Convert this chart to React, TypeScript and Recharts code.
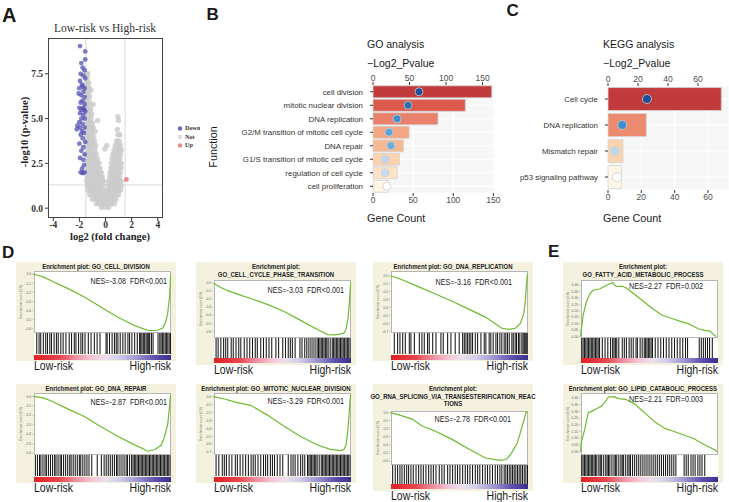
import React from 'react'
import {
  ScatterChart,
  Scatter,
  ComposedChart,
  LineChart,
  Line,
  Bar,
  Cell,
  XAxis,
  YAxis,
  CartesianGrid,
  ReferenceLine,
} from 'recharts'

const SANS = 'Arial, "Liberation Sans", sans-serif'
const SERIF = '"Times New Roman", "Liberation Serif", serif'

type Pt = [number, number]

// ---------- A: volcano ----------
const DOWN_PTS: Pt[] = [
  [-1.95, 9.05], [-1.55, 8.75], [-1.55, 8.3], [-1.85, 8.1], [-1.75, 7.85], [-1.6, 7.7], [-1.9, 7.5],
  [-1.7, 7.4], [-1.55, 7.25], [-1.95, 7.1], [-1.8, 6.9], [-1.75, 6.8], [-2.0, 6.7], [-1.6, 6.7],
  [-1.7, 6.5], [-2.05, 6.4], [-1.85, 6.3], [-1.6, 6.2], [-1.75, 6.0], [-1.9, 5.9], [-1.6, 5.8],
  [-1.7, 5.6], [-2.0, 5.6], [-1.85, 5.5], [-1.65, 5.5], [-1.55, 5.4], [-1.95, 5.3], [-1.7, 5.2],
  [-1.6, 5.0], [-1.85, 5.0], [-2.0, 4.8], [-1.75, 4.7], [-2.15, 4.6], [-1.95, 4.5], [-1.6, 4.5],
  [-2.2, 4.4], [-1.8, 4.3], [-1.65, 4.2], [-1.9, 4.1], [-1.75, 3.9], [-1.55, 3.7], [-2.0, 3.6],
  [-1.7, 3.4], [-1.85, 3.2], [-1.6, 3.0], [-1.95, 2.8], [-1.7, 2.7], [-1.65, 2.4], [-1.8, 2.2],
  [-1.6, 2.0], [-1.75, 1.95], [-1.9, 2.0],
]

// gray cloud, one row per -log10(p) level: [y, x values]
const NOT_ROWS: [number, number[]][] = [
  [7.5, [-1.45, -1.35]],
  [7.25, [-1.4]],
  [7.0, [-1.45, -1.3]],
  [6.75, [-1.4, -1.28]],
  [6.5, [-1.45, -1.3]],
  [6.25, [-1.4, -1.22]],
  [6.0, [-1.45, -1.25]],
  [5.75, [-1.4, -1.2]],
  [5.5, [-1.45, -1.28, -1.12]],
  [5.25, [-1.4, -1.2, -1.05]],
  [5.0, [-1.45, -1.28, -1.1]],
  [4.75, [-1.4, -1.2, -1.0]],
  [4.5, [-1.45, -1.28, -1.1, -0.95]],
  [4.25, [-1.4, -1.2, -1.0]],
  [4.0, [-1.45, -1.28, -1.1, -0.9]],
  [3.75, [-1.4, -1.2, -1.0, -0.85, 0.85, 1.05]],
  [3.5, [-1.45, -1.28, -1.1, -0.9, -0.75, 0.75, 0.95, 1.15]],
  [3.25, [-1.4, -1.2, -1.0, -0.8, 0.65, 0.85, 1.05, 1.2]],
  [3.0, [-1.45, -1.28, -1.1, -0.9, -0.7, 0.55, 0.75, 0.95, 1.15]],
  [2.75, [-1.4, -1.2, -1.0, -0.8, -0.6, 0.5, 0.7, 0.9, 1.1]],
  [2.5, [-1.45, -1.25, -1.05, -0.85, -0.65, -0.5, 0.45, 0.65, 0.85, 1.05, 1.2]],
  [2.25, [-1.4, -1.2, -1.0, -0.8, -0.6, -0.42, 0.4, 0.6, 0.8, 1.0, 1.2]],
  [2.0, [-1.45, -1.25, -1.05, -0.85, -0.65, -0.45, -0.32, 0.35, 0.55, 0.75, 0.95, 1.15]],
  [1.75, [-1.4, -1.2, -1.0, -0.8, -0.6, -0.4, -0.25, 0.3, 0.5, 0.7, 0.9, 1.1]],
  [1.5, [-1.45, -1.25, -1.05, -0.85, -0.65, -0.45, -0.25, -0.12, 0.25, 0.45, 0.65, 0.85, 1.05, 1.2]],
  [1.25, [-1.4, -1.2, -1.0, -0.8, -0.6, -0.4, -0.2, 0.2, 0.4, 0.6, 0.8, 1.0, 1.2]],
  [1.0, [-1.35, -1.15, -0.95, -0.75, -0.55, -0.35, -0.15, 0.15, 0.35, 0.55, 0.75, 0.95, 1.15]],
  [0.75, [-1.2, -1.0, -0.8, -0.6, -0.4, -0.2, 0, 0.2, 0.4, 0.6, 0.8, 1.0]],
  [0.5, [-1.0, -0.8, -0.6, -0.4, -0.2, 0, 0.2, 0.4, 0.6, 0.8]],
  [0.25, [-0.7, -0.5, -0.3, -0.1, 0.1, 0.3, 0.5, 0.7]],
  [0.05, [-0.3, 0.0, 0.25]],
]
const NOT_EXTRA: Pt[] = [
  [0.95, 4.1], [1.1, 4.1], [0.9, 4.4], [1.0, 4.9], [0.95, 5.1], [-0.05, 3.3], [0.1, 3.5],
  [-0.6, 4.9], [-0.8, 4.3], [-0.95, 5.8], [-1.1, 6.6],
]
const UP_PTS: Pt[] = [[1.6, 1.6]]
const VOLCANO_X_TICKS = [-4, -2, 0, 2, 4]
const VOLCANO_Y_TICKS = [0, 2.5, 5, 7.5]

// ---------- B / C: enrichment bars ----------
const GO_TERMS = [
  'cell division',
  'mitotic nuclear division',
  'DNA replication',
  'G2/M transition of mitotic cell cycle',
  'DNA repair',
  'G1/S transition of mitotic cell cycle',
  'regulation of cell cycle',
  'cell proliferation',
]
const GO_COUNT = [148, 115, 81, 45, 38, 33, 30, 19]
const GO_PVAL = [63, 48, 33, 22, 24.5, 16.5, 16.5, 19]
const GO_TICKS = [0, 50, 100, 150]

const KEGG_TERMS = ['Cell cycle', 'DNA replication', 'Mismatch repair', 'p53 signaling pathway']
const KEGG_COUNT = [68, 23, 9, 8]
const KEGG_PVAL = [26, 9.5, 4.5, 6]
const KEGG_TICKS = [0, 20, 40, 60]

const GO_BAR_COLORS = ['#c23b3c', '#dc5a4b', '#e9806b', '#f3a683', '#f6b892', '#fbd2ae', '#fde2c6', '#fef6e6']
const GO_DOT_COLORS = ['#1f4e96', '#2a6cb3', '#3d8fd0', '#5ba3dc', '#6aaee0', '#bcd7ee', '#c6dcf0', '#ffffff']
const KEGG_BAR_COLORS = ['#c23b3c', '#ec8a70', '#fbd3ae', '#fef7e8']
const KEGG_DOT_COLORS = ['#1f4e96', '#3d8fd0', '#bcd7ee', '#ffffff']

// ---------- D / E: GSEA running enrichment scores (rank %, ES) ----------
const ES_CELL_DIVISION: Pt[] = [
  [0, 0], [3, -0.012], [7, -0.03], [14, -0.08], [24, -0.15], [37, -0.25], [49, -0.36], [61, -0.47],
  [73, -0.56], [80, -0.6], [84, -0.62], [90, -0.615], [94, -0.59], [96, -0.53], [97.5, -0.44],
  [99, -0.24], [99.6, -0.05], [100, 0],
]
const ES_CELL_CYCLE: Pt[] = [
  [0, 0], [5, -0.05], [10, -0.09], [18, -0.14], [27, -0.19], [40, -0.27], [51, -0.35], [63, -0.46],
  [76, -0.58], [83, -0.64], [88, -0.645], [92, -0.635], [95, -0.62], [96.5, -0.57], [97.8, -0.44],
  [99, -0.2], [99.6, -0.04], [100, 0.02],
]
const ES_DNA_REPLICATION: Pt[] = [
  [0, 0], [8.5, -0.05], [20.6, -0.14], [32.7, -0.23], [44.8, -0.32], [56.9, -0.42], [69, -0.52],
  [76, -0.6], [81, -0.66], [86, -0.675], [90.8, -0.66], [94.4, -0.6], [96.9, -0.48], [98, -0.32],
  [98.9, -0.1], [99.5, 0], [100, 0.03],
]
const ES_DNA_REPAIR: Pt[] = [
  [0, 0], [7.3, -0.017], [14.6, -0.06], [24.4, -0.13], [36.6, -0.21], [48.8, -0.32], [61, -0.42],
  [73, -0.51], [80.5, -0.56], [83, -0.58], [87.8, -0.565], [92.7, -0.52], [95, -0.44], [97.6, -0.3],
  [98.8, -0.13], [99.6, 0], [100, 0.02],
]
const ES_MITOTIC: Pt[] = [
  [0, 0], [8, -0.03], [16, -0.07], [27, -0.11], [39, -0.23], [51, -0.37], [63, -0.5], [75.6, -0.61],
  [85, -0.665], [92.5, -0.68], [95, -0.665], [96.5, -0.6], [97.5, -0.45], [98.5, -0.25],
  [99.3, -0.05], [100, 0.03],
]
const ES_RNA_SPLICING: Pt[] = [
  [0, 0], [8.5, -0.04], [15.7, -0.08], [23, -0.165], [32.7, -0.23], [44.8, -0.33], [56.9, -0.45],
  [69, -0.56], [76, -0.58], [81, -0.59], [84.7, -0.57], [88, -0.5], [92, -0.38], [94.4, -0.25],
  [96.9, -0.1], [98.5, 0], [100, 0.02],
]
const ES_FATTY_ACID: Pt[] = [
  [0, 0], [0.7, 0.06], [1.9, 0.167], [4.3, 0.27], [6.7, 0.33], [9, 0.36], [13.9, 0.37], [18.7, 0.397],
  [23.4, 0.42], [25.8, 0.39], [30.6, 0.39], [33, 0.38], [37.8, 0.34], [45, 0.28], [52, 0.22],
  [59, 0.167], [66.5, 0.14], [73.7, 0.114], [78.5, 0.1], [85.6, 0.06], [90.4, 0.048], [94, 0.042],
  [97.6, 0.008], [98.8, 0],
]
const ES_LIPID: Pt[] = [
  [0, 0], [0.7, 0.074], [3.2, 0.17], [5.6, 0.29], [8, 0.3], [11.7, 0.32], [15.4, 0.34], [17.9, 0.37],
  [20.4, 0.407], [24.1, 0.41], [27.9, 0.395], [32.8, 0.39], [39, 0.358], [46, 0.296], [53.9, 0.222],
  [61.3, 0.173], [68.6, 0.148], [76, 0.12], [82, 0.1], [88.2, 0.062], [93, 0.037], [98, 0.012],
  [99.3, 0],
]

// gene set hits along the ranked list (%)
const HITS_CELL_DIVISION = [
  2, 3.7, 4.9, 6.8, 8.5, 9.8, 11.5, 12.7, 14.6, 16.3, 17.6, 19.5, 21.2, 23.2, 25.6, 27.3, 29.3, 30.5,
  32.4, 34.1, 35.4, 37.1, 39.5, 41.5, 43.9, 45.9, 48, 52.4, 53.2, 54.9, 56.8, 58.5, 59.8, 61, 62.7,
  64.6, 66.3, 68.3, 69.5, 71.2, 73.2, 75.1, 76.8, 77.6, 78.5, 79.5, 80.5, 81.5, 82.4, 83.4, 84.1,
  85.4, 86.6, 90.2, 91.5, 92.4, 93.4, 94.4, 95.4, 96.3, 97.3, 98.3, 99.3,
]
const HITS_CELL_CYCLE = [
  1.5, 3, 5, 7, 8.5, 10, 12.5, 14, 16, 18, 19.5, 22, 24, 26, 28, 30, 31.5, 34, 36, 38, 40, 42, 45, 47,
  50, 52, 54, 55.5, 57, 59, 62.5, 64, 66, 67.5, 69, 70.5, 72, 73.5, 75, 76, 77, 78, 79, 80, 81, 82, 83,
  84.5, 86, 87, 88, 89, 90, 91, 92, 93, 94, 95, 96, 97, 98, 99,
]
const HITS_DNA_REPLICATION = [
  2.4, 4.8, 6.5, 8.5, 10.4, 13.3, 14.5, 17, 20.6, 22.5, 24.2, 26.6, 27.8, 30.3, 32.7, 36.3, 38, 41.2,
  43.6, 46.7, 49.6, 52.1, 53.3, 54.5, 55.7, 56.9, 58.1, 59.3, 61.3, 63, 65.4, 67.8, 69, 71.4, 72.6,
  74.3, 76.3, 77.5, 79.2, 80.6, 82.3, 83.5, 84.7, 86, 87.9, 88.9, 90.3, 91.3, 92.7, 93.7, 95.2, 96.1,
  96.9, 97.6, 98.3, 99, 99.7,
]
const HITS_DNA_REPAIR = [
  1, 2.5, 4, 5, 6.5, 8, 9, 10.5, 12, 13.5, 15, 16, 17.5, 19, 20, 21.5, 23, 24.5, 26, 27, 28.5, 30, 31.5,
  33, 34, 35.5, 37, 38.5, 40, 42, 46, 49, 51, 52.5, 54, 55.5, 57, 58.5, 60, 61, 62.5, 64, 65.5, 67, 68,
  69.5, 71, 72, 73, 74, 75, 76, 77, 78, 79, 80, 81, 82, 83, 84, 85, 86, 87, 88, 89, 90, 91, 92, 93, 94,
  95, 96, 97, 98, 99,
]
const HITS_MITOTIC = [
  1.5, 3.5, 6, 7.5, 9, 11, 13, 15.5, 17, 19, 21, 23, 25, 27, 28.5, 30, 32, 34, 36, 37.5, 39, 41, 42.5,
  44, 46, 48, 50, 54, 56, 57.5, 59, 61, 63, 64.5, 66, 68, 69, 70, 71, 72, 73, 74, 75, 76.5, 78, 79, 80,
  81, 82, 83, 84, 85, 86, 87, 88, 89, 90, 91, 92, 93, 94, 95, 96, 97, 98, 99,
]
const HITS_RNA_SPLICING = [
  1.2, 3.1, 4.8, 6.5, 8, 9.7, 11.4, 12.8, 14.5, 16.2, 18.2, 20.1, 21.8, 23.5, 25.4, 27.4, 29.1, 30.8,
  32.7, 35.1, 37, 38.7, 41.2, 42.9, 44.8, 46.7, 48.4, 50.1, 52.1, 54, 55.7, 57.4, 59.3, 61.3, 63, 64.6,
  66.6, 68.5, 70.2, 71.9, 73.8, 75.8, 77.5, 79.2, 80.6, 82.3, 83.5, 84.7, 86, 87.2, 88.4, 89.6, 90.8,
  92, 93.2, 94.4, 95.6, 96.9, 98.1, 99.3,
]
const HITS_FATTY_ACID = [
  0.5, 1.5, 2.5, 3.5, 4.5, 5.5, 6.5, 7.5, 8.5, 9.5, 10.5, 11.5, 12.5, 13.5, 15.5, 17.5, 19.5, 21.5, 23,
  24, 25, 26, 27.5, 30, 31.5, 33, 35, 36.5, 38, 40, 41, 43, 44.5, 46, 47, 48, 49, 50, 51, 52, 54, 56,
  58, 60, 62, 64, 66, 68, 70, 72, 74, 76, 77.5, 86, 87.5, 89, 90.5, 92, 93.5, 95.5,
]
const HITS_LIPID = [
  0.5, 1.5, 2.5, 3.5, 4.5, 5.5, 6.5, 7.5, 8.5, 9.5, 10.5, 11.5, 13, 14, 15, 16.5, 18, 19, 20, 21, 22.5,
  24, 25, 26, 27.5, 29, 30, 31, 32.5, 34, 35, 36, 37.5, 39, 40.5, 42, 43.5, 45, 46.5, 48, 49.5, 51,
  52.5, 54, 55.5, 57, 58.5, 60, 61.5, 63, 64.5, 66, 67.5, 69, 75, 76.5, 78, 80, 81.5, 83, 85, 86.5, 88,
  90,
]

const NEG6_TICKS = [0, -0.1, -0.2, -0.3, -0.4, -0.5, -0.6]
const NEG7_TICKS = [0, -0.1, -0.2, -0.3, -0.4, -0.5, -0.6, -0.7]
const POS_TICKS = [0, 0.05, 0.1, 0.15, 0.2, 0.25, 0.3, 0.35, 0.4]

// layout of the eight GSEA panels
const GSEA_PANELS = [
  { x: 16, y: 262, title: ['Enrichment plot: GO_CELL_DIVISION'], es: ES_CELL_DIVISION, hits: HITS_CELL_DIVISION, ticks: NEG6_TICKS, domain: [-0.645, 0.035], digits: 1, nes: 'NES=-3.08  FDR<0.001', nesRight: 4, nesDy: 10.7 },
  { x: 196, y: 262, title: ['Enrichment plot:', 'GO_CELL_CYCLE_PHASE_TRANSITION'], es: ES_CELL_CYCLE, hits: HITS_CELL_CYCLE, ticks: NEG6_TICKS, domain: [-0.68, 0.04], digits: 1, nes: 'NES=-3.03  FDR<0.001', nesRight: 7, nesDy: 10.7 },
  { x: 373, y: 262, title: ['Enrichment plot: GO_DNA_REPLICATION'], es: ES_DNA_REPLICATION, hits: HITS_DNA_REPLICATION, ticks: NEG7_TICKS, domain: [-0.72, 0.06], digits: 1, nes: 'NES=-3.16  FDR<0.001', nesRight: 16, nesDy: 11.5 },
  { x: 563, y: 262, title: ['Enrichment plot:', 'GO_FATTY_ACID_METABOLIC_PROCESS'], es: ES_FATTY_ACID, hits: HITS_FATTY_ACID, ticks: POS_TICKS, domain: [-0.01, 0.44], digits: 2, nes: 'NES=2.27  FDR=0.002', nesRight: 15, nesDy: 6.6 },
  { x: 16, y: 384, title: ['Enrichment plot: GO_DNA_REPAIR'], es: ES_DNA_REPAIR, hits: HITS_DNA_REPAIR, ticks: NEG6_TICKS, domain: [-0.62, 0.035], digits: 1, nes: 'NES=-2.87  FDR<0.001', nesRight: 4, nesDy: 9 },
  { x: 196, y: 384, title: ['Enrichment plot: GO_MITOTIC_NUCLEAR_DIVISION'], es: ES_MITOTIC, hits: HITS_MITOTIC, ticks: NEG7_TICKS, domain: [-0.735, 0.045], digits: 1, nes: 'NES=-3.29  FDR<0.001', nesRight: 7, nesDy: 8.7 },
  { x: 373, y: 384, title: ['Enrichment plot:', 'GO_RNA_SPLICING_VIA_TRANSESTERIFICATION_REAC', 'TIONS'], es: ES_RNA_SPLICING, hits: HITS_RNA_SPLICING, ticks: NEG6_TICKS, domain: [-0.64, 0.02], digits: 1, nes: 'NES=-2.78  FDR<0.001', nesRight: 17, nesDy: 8.3 },
  { x: 563, y: 384, title: ['Enrichment plot: GO_LIPID_CATABOLIC_PROCESS'], es: ES_LIPID, hits: HITS_LIPID, ticks: POS_TICKS, domain: [-0.025, 0.437], digits: 2, nes: 'NES=2.21  FDR=0.003', nesRight: 15, nesDy: 6.4 },
]

const GRADIENT = [
  ['0%', '#e21f26'],
  ['18%', '#e6454f'],
  ['30%', '#ee8c9c'],
  ['42%', '#f4c6d6'],
  ['52%', '#ece0ee'],
  ['62%', '#d2cde8'],
  ['75%', '#9d96cf'],
  ['88%', '#5c50ad'],
  ['100%', '#3a2d8f'],
]

// ---------- helpers ----------
function T({ x, y, size, children, anchor = 'start', bold = false, family = SANS, color = '#1a1a1a', sx = 1 }: any) {
  const tx = anchor === 'middle' ? '-50%' : anchor === 'end' ? '-100%' : '0px'
  return (
    <div
      style={{
        position: 'absolute',
        left: x,
        top: y - size / 2,
        fontSize: size,
        lineHeight: `${size}px`,
        fontFamily: family,
        fontWeight: bold ? 700 : 400,
        color,
        whiteSpace: 'pre',
        transform: `translateX(${tx}) scaleX(${sx})`,
        transformOrigin: anchor === 'middle' ? 'center' : anchor === 'end' ? 'right' : 'left',
      }}
    >
      {children}
    </div>
  )
}

function VT({ x, y, size, children, bold = false, family = SANS, color = '#1a1a1a' }: any) {
  return (
    <div
      style={{
        position: 'absolute',
        left: x,
        top: y,
        fontSize: size,
        lineHeight: `${size}px`,
        fontFamily: family,
        fontWeight: bold ? 700 : 400,
        color,
        whiteSpace: 'nowrap',
        transform: 'translate(-50%, -50%) rotate(-90deg)',
      }}
    >
      {children}
    </div>
  )
}

const toXY = (pts: Pt[]) => pts.map(([x, y]) => ({ x, y }))

const circle = (fill: string, r: number, opacity: number) => (p: any) => (
  <circle cx={p.cx} cy={p.cy} r={r} fill={fill} fillOpacity={opacity} />
)

// ---------- A ----------
function Volcano() {
  const notData = [...NOT_ROWS.flatMap(([y, xs]) => xs.map(x => ({ x, y }))), ...toXY(NOT_EXTRA)]
  const tick = { fontFamily: SERIF, fontWeight: 700, fontSize: 9.5, fill: '#333' }
  return (
    <div style={{ position: 'absolute', left: 0, top: 0, width: 200, height: 245, overflow: 'hidden' }}>
      <T x={2} y={14.5} size={20} bold>A</T>
      <T x={105} y={29} size={11.5} family={SERIF} anchor="middle" color="#333">Low-risk vs High-risk</T>
      <ScatterChart width={200} height={240} margin={{ top: 38, right: 37, bottom: 0, left: 0 }}>
        <XAxis
          type="number"
          dataKey="x"
          domain={[-4.4, 4.4]}
          ticks={VOLCANO_X_TICKS}
          interval={0}
          height={22}
          tickSize={3}
          tickMargin={0}
          axisLine={false}
          tick={tick}
          tickLine={{ stroke: '#333' }}
        />
        <YAxis
          type="number"
          dataKey="y"
          domain={[-0.55, 9.5]}
          ticks={VOLCANO_Y_TICKS}
          interval={0}
          width={48}
          tickSize={3}
          tickMargin={2}
          axisLine={false}
          tick={tick}
          tickLine={{ stroke: '#333' }}
          tickFormatter={(v: number) => v.toFixed(1)}
        />
        <ReferenceLine x={-1.5} stroke="#e6e6e6" strokeWidth={1.5} />
        <ReferenceLine x={1.5} stroke="#e6e6e6" strokeWidth={1.5} />
        <ReferenceLine y={1.3} stroke="#e6e6e6" strokeWidth={1.5} />
        <Scatter data={notData} shape={circle('#c9c9c9', 2.7, 0.8)} isAnimationActive={false} />
        <Scatter data={toXY(DOWN_PTS)} shape={circle('#4c4cb0', 2.4, 0.72)} isAnimationActive={false} />
        <Scatter data={toXY(UP_PTS)} shape={circle('#f07c86', 2.4, 0.9)} isAnimationActive={false} />
      </ScatterChart>
      <div
        style={{
          position: 'absolute',
          left: 48,
          top: 38,
          width: 115,
          height: 180,
          border: '0.8px solid #444',
          boxSizing: 'border-box',
          pointerEvents: 'none',
        }}
      />
      <T x={110} y={237} size={10.5} family={SERIF} bold anchor="middle" color="#222">log2 (fold change)</T>
      <VT x={25} y={132} size={10.5} family={SERIF} bold color="#222">-log10 (p-value)</VT>
      <svg style={{ position: 'absolute', left: 176, top: 124 }} width={8} height={26}>
        <circle cx={4} cy={4.5} r={2.2} fill="#6a6ac0" />
        <circle cx={4} cy={13} r={2.2} fill="#dddddd" />
        <circle cx={4} cy={21.5} r={2.2} fill="#f08a8a" />
      </svg>
      <T x={185} y={128.5} size={6.2} family={SERIF} bold color="#333">Down</T>
      <T x={185} y={137} size={6.2} family={SERIF} bold color="#333">Not</T>
      <T x={185} y={145.5} size={6.2} family={SERIF} bold color="#333">Up</T>
    </div>
  )
}

// ---------- B / C ----------
const termTick = (p: any) => (
  <text x={p.x} y={p.y} dy="0.35em" textAnchor="end" fontSize={7.9} fill="#333333" fontFamily={SANS}>
    {p.payload.value}
  </text>
)

function EnrichBars({ x, y, width, height, yWidth, rightPad, terms, counts, pvals, countMax, pvalMax, ticks, barColors, dotColors, dotR }: any) {
  const data = terms.map((term: string, i: number) => ({ term, count: counts[i], pval: pvals[i] }))
  const axisTick = { fontSize: 8.5, fill: '#4d4d4d', fontFamily: SANS }
  return (
    <div style={{ position: 'absolute', left: x, top: y }}>
      <ComposedChart
        layout="vertical"
        width={width}
        height={height}
        data={data}
        margin={{ top: 0, right: rightPad, bottom: 0, left: 0 }}
        barCategoryGap="6%"
      >
        <CartesianGrid xAxisId="count" fill="#f6f6f6" stroke="#ffffff" strokeWidth={1} />
        <XAxis
          xAxisId="count"
          type="number"
          orientation="bottom"
          domain={[0, countMax]}
          ticks={ticks}
          interval={0}
          height={17}
          tickSize={3}
          tickMargin={1}
          axisLine={false}
          tick={axisTick}
          tickLine={{ stroke: '#333' }}
        />
        <XAxis
          xAxisId="pval"
          type="number"
          orientation="top"
          domain={[0, pvalMax]}
          ticks={ticks}
          interval={0}
          height={25}
          tickSize={3}
          tickMargin={1}
          axisLine={false}
          tick={axisTick}
          tickLine={{ stroke: '#333' }}
        />
        <YAxis
          type="category"
          dataKey="term"
          width={yWidth}
          interval={0}
          tickSize={3}
          tickMargin={7}
          axisLine={false}
          tick={termTick}
          tickLine={{ stroke: '#333' }}
        />
        <Bar xAxisId="count" dataKey="count" stroke="#d4d4d4" strokeWidth={0.8} isAnimationActive={false}>
          {data.map((_: any, i: number) => (
            <Cell key={i} fill={barColors[i]} />
          ))}
        </Bar>
        <Line
          xAxisId="pval"
          dataKey="pval"
          stroke="none"
          isAnimationActive={false}
          activeDot={false}
          dot={(p: any) => (
            <circle
              key={`dot-${p.index}`}
              cx={p.cx}
              cy={p.cy}
              r={dotR}
              fill={dotColors[p.index]}
              stroke="#cfcfcf"
              strokeWidth={0.8}
            />
          )}
        />
      </ComposedChart>
    </div>
  )
}

// ---------- D / E ----------
const IN_L = 17.5
const IN_W = 137.5

function Gsea({ cfg, idx }: any) {
  const n = cfg.title.length
  const plotTop = 9 + 9 * (n - 1)
  const plotBottom = 71 + 4.75 * (n - 1)
  const plotH = plotBottom - plotTop
  const barH = 21 - (n - 1)
  const gradTop = plotBottom + barH + 0.5
  const boxH = gradTop + 6.5
  const esData = toXY(cfg.es)
  const hitData = cfg.hits.map((h: number) => ({ x: h, y: 0.5 }))
  return (
    <div style={{ position: 'absolute', left: cfg.x, top: cfg.y, width: 160, height: boxH + 14 }}>
      <div style={{ position: 'absolute', left: 0, top: 0, width: 160, height: boxH, background: '#f4f2df' }} />
      {cfg.title.map((line: string, i: number) => (
        <T key={i} x={80} y={4.6 + 7.5 * i} size={7} bold anchor="middle" sx={0.86} color="#222">
          {line}
        </T>
      ))}
      <div
        style={{
          position: 'absolute',
          left: IN_L,
          top: plotTop,
          width: IN_W,
          height: plotH,
          background: '#fff',
          border: '0.6px solid #b5b5b5',
          boxSizing: 'border-box',
        }}
      />
      <div style={{ position: 'absolute', left: 0, top: plotTop }}>
        <LineChart width={IN_L + IN_W} height={plotH} data={esData} margin={{ top: 0, right: 0, bottom: 0, left: 0 }}>
          <XAxis type="number" dataKey="x" domain={[0, 100]} hide />
          <YAxis
            type="number"
            domain={cfg.domain}
            ticks={cfg.ticks}
            interval={0}
            width={IN_L}
            tickSize={1.5}
            tickMargin={0.8}
            axisLine={false}
            tick={{ fontSize: 3.4, fill: '#666', fontFamily: SANS }}
            tickLine={{ stroke: '#999', strokeWidth: 0.5 }}
            tickFormatter={(v: number) => v.toFixed(cfg.digits)}
          />
          <Line type="linear" dataKey="y" stroke="#6dbb2f" strokeWidth={1.2} dot={false} isAnimationActive={false} />
        </LineChart>
      </div>
      <VT x={5.8} y={plotTop + plotH / 2} size={3.4} color="#777">Enrichment score (ES)</VT>
      <T x={IN_L + IN_W - cfg.nesRight} y={plotTop + cfg.nesDy} size={9} anchor="end" sx={0.8} color="#222">
        {cfg.nes}
      </T>
      <div
        style={{
          position: 'absolute',
          left: IN_L,
          top: plotBottom,
          width: IN_W,
          height: barH,
          background: '#fff',
        }}
      >
        <ScatterChart width={IN_W} height={barH} margin={{ top: 0, right: 0, bottom: 0, left: 0 }}>
          <XAxis type="number" dataKey="x" domain={[0, 100]} hide />
          <YAxis type="number" dataKey="y" domain={[0, 1]} hide />
          <Scatter
            data={hitData}
            isAnimationActive={false}
            shape={(p: any) => (
              <line x1={p.cx} x2={p.cx} y1={0} y2={barH} stroke="#161616" strokeWidth={1.05} />
            )}
          />
        </ScatterChart>
      </div>
      <svg style={{ position: 'absolute', left: IN_L, top: gradTop }} width={IN_W} height={5}>
        <defs>
          <linearGradient id={`rank-grad-${idx}`} x1="0" x2="1" y1="0" y2="0">
            {GRADIENT.map(([o, c]) => (
              <stop key={o} offset={o} stopColor={c} />
            ))}
          </linearGradient>
        </defs>
        <rect x={0} y={0} width={IN_W} height={5} fill={`url(#rank-grad-${idx})`} />
      </svg>
      <T x={IN_L} y={boxH + 5.5} size={12.5} sx={0.84} color="#1a1a1a">Low-risk</T>
      <T x={IN_L + IN_W} y={boxH + 5.5} size={12.5} sx={0.84} anchor="end" color="#1a1a1a">High-risk</T>
    </div>
  )
}

export default function App() {
  return (
    <div
      style={{
        position: 'absolute',
        left: 0,
        top: 0,
        width: 729,
        height: 502,
        background: '#fff',
        overflow: 'hidden',
        fontFamily: SANS,
      }}
    >
      <Volcano />

      <T x={206.5} y={14.2} size={17} bold>B</T>
      <T x={367} y={44} size={10.5} color="#1a1a1a">GO analysis</T>
      <T x={367} y={63} size={10.5} color="#1a1a1a">−Log2_Pvalue</T>
      <VT x={213} y={147} size={10.8} color="#1a1a1a">Function</VT>
      <EnrichBars
        x={215}
        y={60}
        width={295}
        height={150}
        yWidth={158}
        rightPad={15}
        terms={GO_TERMS}
        counts={GO_COUNT}
        pvals={GO_PVAL}
        countMax={152}
        pvalMax={167}
        ticks={GO_TICKS}
        barColors={GO_BAR_COLORS}
        dotColors={GO_DOT_COLORS}
        dotR={4}
      />
      <T x={367} y={218} size={10.8} color="#1a1a1a">Gene Count</T>

      <T x={506.5} y={10.8} size={17} bold>C</T>
      <T x={603} y={44} size={10.5} color="#1a1a1a">KEGG analysis</T>
      <T x={603} y={63} size={10.5} color="#1a1a1a">−Log2_Pvalue</T>
      <EnrichBars
        x={500}
        y={61}
        width={229}
        height={146}
        yWidth={108}
        rightPad={0}
        terms={KEGG_TERMS}
        counts={KEGG_COUNT}
        pvals={KEGG_PVAL}
        countMax={72.6}
        pvalMax={80.7}
        ticks={KEGG_TICKS}
        barColors={KEGG_BAR_COLORS}
        dotColors={KEGG_DOT_COLORS}
        dotR={4.5}
      />
      <T x={603} y={218} size={10.8} color="#1a1a1a">Gene Count</T>

      <T x={2} y={252} size={17} bold>D</T>
      <T x={548} y={251.5} size={17} bold>E</T>
      {GSEA_PANELS.map((p, i) => (
        <Gsea key={i} cfg={p} idx={i} />
      ))}
    </div>
  )
}
